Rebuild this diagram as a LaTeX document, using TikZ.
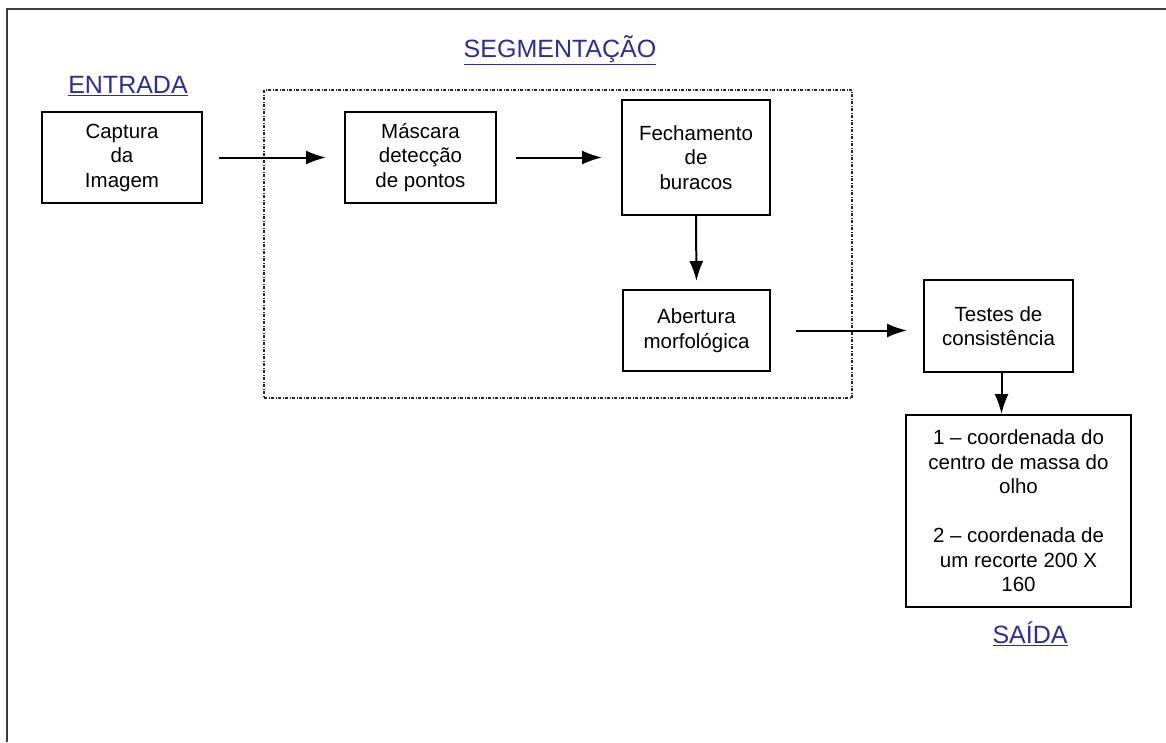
\documentclass[tikz,border=0pt]{standalone}
\usepackage{fontspec}
\setmainfont{Liberation Sans}
\usetikzlibrary{arrows.meta,calc}
\definecolor{labelblue}{RGB}{45,45,150}
\definecolor{framegray}{RGB}{60,60,60}
\begin{document}
\begin{tikzpicture}[x=1pt,y=-1pt,
  box/.style={draw=black, line width=2pt, align=center, inner sep=0pt,
    font=\fontsize{20.5}{24.5}\selectfont},
  arr/.style={draw=black, line width=2pt, -{Latex[length=20pt,width=14pt]}},
  heading/.style={text=labelblue, font=\fontsize{25}{28}\selectfont, inner sep=0pt},
  group/.style={draw=black!85, line width=1.4pt, dash pattern=on 3pt off 1.5pt on 1pt off 1.5pt}
]
\useasboundingbox (0,0) rectangle (1166,742);
% outer frame (top and left edges visible)
\draw[framegray, line width=2.2pt] (7,742) -- (7,9) -- (1166,9);
% dotted group
\draw[group] (264,90) rectangle (852,398);
% headings
\node[heading] (hin) at (128,86) {\underline{ENTRADA}};
\node[heading] (hseg) at (560,50) {\underline{SEGMENTAÇÃO}};
\node[heading] (hout) at (1030,634) {\underline{SAÍDA}};
% boxes
\node[box, minimum width=160pt, minimum height=91pt] (cap) at (122,157.5) {Captura\\da\\Imagem};
\node[box, minimum width=151pt, minimum height=91pt] (mas) at (420.5,157.5) {Máscara\\detecção\\de pontos};
\node[box, minimum width=148pt, minimum height=115pt] (fec) at (696,157.5) {Fechamento\\de\\buracos};
\node[box, minimum width=147pt, minimum height=81pt] (abe) at (696.5,330.5) {Abertura\\morfológica};
\node[box, minimum width=149pt, minimum height=92pt] (tes) at (998.5,326) {Testes de\\consistência};
\node[box, minimum width=225pt, minimum height=192pt] (out) at (1018.5,511)
  {1 – coordenada do\\centro de massa do\\olho\\\mbox{}\\2 – coordenada de\\um recorte 200 X\\160};
% connectors
\draw[arr, shorten <=16pt, shorten >=18pt] (cap.east) -- (mas.west);
\draw[arr, shorten <=19pt, shorten >=19pt] (mas.east) -- (fec.west);
\draw[arr, shorten >=8pt] (fec.south) -- (abe.north);
\draw[arr, shorten <=25pt, shorten >=16pt] (abe.east) -- (abe.east -| tes.west);
\draw[arr] ([xshift=3pt]tes.south) -- ([xshift=3pt]tes.south |- out.north);
\end{tikzpicture}
\end{document}
